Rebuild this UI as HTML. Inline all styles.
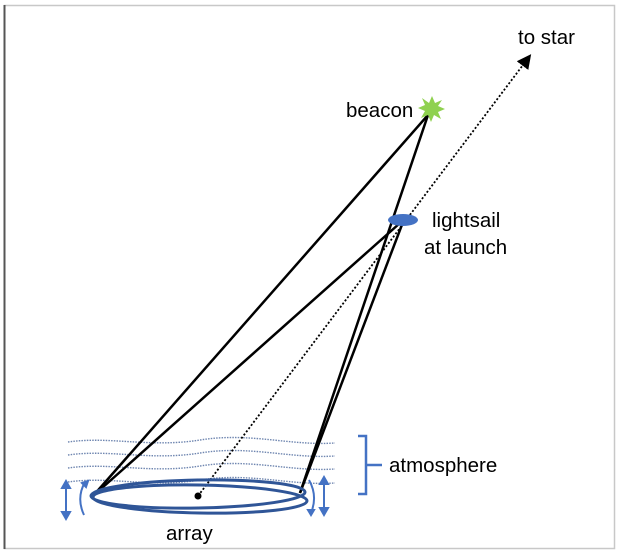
<!DOCTYPE html>
<html><head><style>
body{margin:0;background:#fff;}
svg{display:block;font-family:"Liberation Sans",sans-serif;}
</style></head><body>
<svg width="620" height="556" viewBox="0 0 620 556">
<rect x="4.5" y="5.5" width="610" height="543" fill="#fff" stroke="#c8c8c8" stroke-width="1.5"/>
<line x1="4.5" y1="5" x2="4.5" y2="549" stroke="#555" stroke-width="2"/>
<defs><marker id="ah" markerWidth="8" markerHeight="8" refX="6" refY="4" orient="auto"><path d="M0,0 L8,4 L0,8 z" fill="#000"/></marker></defs>
<g fill="none" stroke="#6f86b0" stroke-width="1.4" stroke-dasharray="1.5 1.2">
<path d="M68,442 C110,436 150,448 200,440 S290,446 335,443"/>
<path d="M68,455 C110,449 150,461 200,453 S290,459 335,456"/>
<path d="M68,468 C110,462 150,474 200,466 S290,472 335,469"/>
<path d="M68,482 C110,476 150,488 200,480 S290,486 335,483"/>
</g>
<line x1="198" y1="496" x2="529" y2="57" stroke="#000" stroke-width="1.8" stroke-dasharray="2 2" marker-end="url(#ah)"/>
<g stroke="#000" stroke-width="2.5" fill="none">
<line x1="93" y1="496" x2="428" y2="115"/>
<line x1="93" y1="496" x2="400" y2="223"/>
<line x1="300" y1="493" x2="428" y2="115"/>
<line x1="300" y1="493" x2="403" y2="222"/>
</g>
<g fill="none" stroke="#2f5597" stroke-width="3">
<ellipse cx="198" cy="494" rx="107" ry="14" transform="rotate(-1 198 494)"/>
<ellipse cx="200" cy="499" rx="107" ry="14" transform="rotate(1 200 499)"/>
</g>
<circle cx="198" cy="496" r="3.5" fill="#000"/>
<ellipse cx="403" cy="220" rx="15" ry="6" fill="#4472c4"/>
<polygon points="432,96 435,103 442,100 438,106 445,109 438,112 441,119 434,115 431,122 428,115 421,118 425,111 418,108 425,105 422,98 429,103" fill="#8fd14f"/>
<g stroke="#4472c4" stroke-width="2" fill="#4472c4">
<line x1="66" y1="486" x2="66" y2="514"/>
<path d="M62,488 L66,481 L70,488z M62,512 L66,519 L70,512z"/>
<path d="M85,482 Q76,498 84,515" fill="none"/>
<path d="M82,483 L88,481 L86,487z"/>
<line x1="324" y1="482" x2="324" y2="510"/>
<path d="M320,484 L324,477 L328,484z M320,508 L324,515 L328,508z"/>
<path d="M309,480 Q318,496 311,513" fill="none"/>
<path d="M308,510 L311,515 L314,510z"/>
<path d="M358,436 H366 V494 H358 M366,465 H382" fill="none" stroke-width="2.5"/>
</g>
<g font-size="20.5" fill="#000">
<text x="518" y="44">to star</text>
<text x="346" y="117">beacon</text>
<text x="432" y="227">lightsail</text>
<text x="424" y="254">at launch</text>
<text x="389" y="472">atmosphere</text>
<text x="166" y="540">array</text>
</g>
</svg>
</body></html>
